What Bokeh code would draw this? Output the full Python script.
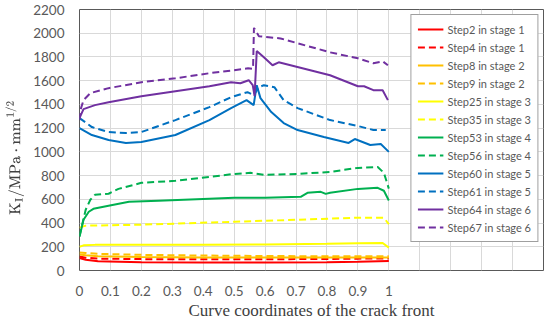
from bokeh.plotting import figure
from bokeh.models import (FixedTicker, CustomJSTickFormatter, Legend, LegendItem,
                          Range1d)
from bokeh.embed import file_html
from bokeh.resources import INLINE

# ---------------- data ----------------
x_step2 = [0, 0.02, 0.06, 0.2, 0.4, 0.6, 0.8, 0.9, 1.0]
y_step2 = [105, 90, 78, 70, 67, 67, 70, 74, 80]

x_step4 = [0, 0.02, 0.06, 0.2, 0.4, 0.6, 0.8, 0.9, 1.0]
y_step4 = [118, 108, 100, 96, 94, 95, 97, 100, 102]

x_step8 = [0, 0.02, 0.06, 0.2, 0.4, 0.6, 0.8, 0.9, 1.0]
y_step8 = [135, 128, 120, 114, 110, 109, 109, 110, 110]

x_step9 = [0, 0.02, 0.06, 0.2, 0.4, 0.6, 0.8, 0.9, 1.0]
y_step9 = [152, 148, 140, 132, 126, 122, 120, 120, 120]

x_step25 = [0, 0.013, 0.05, 0.2, 0.4, 0.6, 0.8, 0.9, 0.98, 1.0]
y_step25 = [200, 212, 216, 216, 217, 220, 225, 230, 232, 193]

x_step35 = [0, 0.02, 0.2, 0.5, 0.705, 0.9, 0.984, 1.0]
y_step35 = [361, 378, 386, 411, 428, 445, 445, 390]

x_step53 = [0, 0.013, 0.03, 0.045, 0.094, 0.16, 0.255, 0.42, 0.5, 0.6, 0.715,
            0.737, 0.78, 0.796, 0.81, 0.9, 0.964, 0.984, 1.0]
y_step53 = [285, 428, 495, 520, 546, 579, 588, 605, 613, 613, 621,
            655, 663, 646, 655, 688, 697, 672, 590]

x_step56 = [0, 0.02, 0.035, 0.05, 0.094, 0.126, 0.2, 0.31, 0.42, 0.5, 0.553,
            0.6, 0.705, 0.81, 0.9, 0.964, 0.984, 1.0]
y_step56 = [290, 512, 596, 638, 647, 688, 739, 756, 789, 814, 823,
            806, 814, 831, 865, 873, 823, 690]

x_step60 = [0, 0.04, 0.094, 0.15, 0.2, 0.31, 0.42, 0.49, 0.54, 0.563, 0.573,
            0.585, 0.62, 0.66, 0.705, 0.79, 0.87, 0.89, 0.94, 0.974, 1.0]
y_step60 = [1201, 1142, 1100, 1075, 1083, 1142, 1268, 1369, 1436, 1394, 1562,
            1453, 1335, 1243, 1184, 1125, 1075, 1108, 1058, 1066, 1000]

x_step61 = [0, 0.04, 0.094, 0.15, 0.2, 0.31, 0.42, 0.49, 0.543, 0.563, 0.58,
            0.596, 0.63, 0.66, 0.705, 0.81, 0.9, 0.95, 0.99]
y_step61 = [1285, 1209, 1167, 1159, 1167, 1268, 1377, 1461, 1503, 1478, 1545,
            1562, 1545, 1436, 1369, 1268, 1218, 1184, 1184]

x_step64 = [0, 0.013, 0.05, 0.094, 0.2, 0.31, 0.42, 0.49, 0.52, 0.547, 0.56,
            0.566, 0.573, 0.596, 0.624, 0.644, 0.81, 0.9, 0.92, 0.95, 0.98, 0.997]
y_step64 = [1285, 1360, 1394, 1419, 1469, 1511, 1553, 1587, 1578, 1604, 1562,
            1470, 1850, 1797, 1730, 1755, 1646, 1553, 1553, 1520, 1520, 1436]

x_step67 = [0, 0.003, 0.013, 0.035, 0.094, 0.2, 0.31, 0.42, 0.5, 0.545, 0.561,
            0.564, 0.58, 0.65, 0.81, 0.9, 0.95, 0.98, 0.997]
y_step67 = [1268, 1352, 1436, 1495, 1537, 1587, 1620, 1663, 1688, 1705, 1700,
            2045, 1975, 1956, 1839, 1789, 1747, 1763, 1730]

series_labels = ["Step2 in stage 1", "Step4 in stage 1", "Step8 in stage 2",
                 "Step9 in stage 2", "Step25 in stage 3", "Step35 in stage 3",
                 "Step53 in stage 4", "Step56 in stage 4", "Step60 in stage 5",
                 "Step61 in stage 5", "Step64 in stage 6", "Step67 in stage 6"]

x_ticks = [0, 0.1, 0.2, 0.3, 0.4, 0.5, 0.6, 0.7, 0.8, 0.9, 1]
x_grid = [0, 0.1, 0.2, 0.3, 0.4, 0.5, 0.6, 0.7, 0.8, 0.9, 1, 1.1, 1.2, 1.3, 1.4, 1.5]
y_ticks = [0, 200, 400, 600, 800, 1000, 1200, 1400, 1600, 1800, 2000, 2200]

x_title = "Curve coordinates of the crack front"
y_title = r"$$\mathrm{K_I/MPa\cdot mm^{1/2}}\hspace{2.2em}$$"

# ---------------- styling ----------------
colors = ["#FF0000", "#FF0000", "#FFC000", "#FFC000", "#FFFF00", "#FFFF00",
          "#00B050", "#00B050", "#0070C0", "#0070C0", "#7030A0", "#7030A0"]
dashed = [False, True] * 6

xs = [x_step2, x_step4, x_step8, x_step9, x_step25, x_step35,
      x_step53, x_step56, x_step60, x_step61, x_step64, x_step67]
ys = [y_step2, y_step4, y_step8, y_step9, y_step25, y_step35,
      y_step53, y_step56, y_step60, y_step61, y_step64, y_step67]

p = figure(width=548, height=322, output_backend="svg", toolbar_location=None,
           x_range=Range1d(0, 1.5), y_range=Range1d(0, 2200),
           min_border_left=79, min_border_right=5, min_border_top=9,
           min_border_bottom=51)
p.background_fill_color = "white"
p.border_fill_color = "white"
p.outline_line_color = "#595959"
p.outline_line_width = 1

p.xaxis.ticker = FixedTicker(ticks=x_ticks)
p.xaxis.formatter = CustomJSTickFormatter(code="return tick.toString();")
p.yaxis.ticker = FixedTicker(ticks=y_ticks)
p.xgrid.ticker = FixedTicker(ticks=x_grid)
p.ygrid.ticker = FixedTicker(ticks=y_ticks)
for g in (p.xgrid, p.ygrid):
    g.grid_line_color = "#D9D9D9"
    g.grid_line_width = 1

for ax in (p.xaxis, p.yaxis):
    ax.axis_line_color = None
    ax.major_tick_line_color = None
    ax.minor_tick_line_color = None
    ax.major_tick_out = 0
    ax.major_tick_in = 0
    ax.minor_tick_out = 0
    ax.minor_tick_in = 0
    ax.major_label_text_font = "Lato"
    ax.major_label_text_font_size = "13.5px"
    ax.major_label_text_color = "#595959"
    ax.axis_label_text_font = "Liberation Serif"
    ax.axis_label_text_font_style = "normal"
    ax.axis_label_text_color = "#404040"
p.yaxis.major_label_standoff = 15
p.xaxis.major_label_standoff = 15

p.xaxis.axis_label = x_title
p.xaxis.axis_label_text_font_size = "17px"
p.xaxis.axis_label_standoff = 2

p.yaxis.axis_label = y_title
p.yaxis.axis_label_text_font_size = "15px"
p.yaxis.axis_label_standoff = 6

items = []
for i in range(12):
    kw = dict(line_color=colors[i], line_width=2)
    if dashed[i]:
        kw["line_dash"] = "7 4"
    r = p.line(xs[i], ys[i], **kw)
    items.append(LegendItem(label=series_labels[i], renderers=[r]))

legend = Legend(items=items, location="top_right")
legend.border_line_color = "#404040"
legend.border_line_width = 1
legend.background_fill_color = "white"
legend.background_fill_alpha = 1
legend.label_text_font = "Lato"
legend.label_text_font_size = "11px"
legend.label_text_color = "#595959"
legend.glyph_width = 26
legend.glyph_height = 16
legend.label_height = 16
legend.spacing = 2
legend.padding = 6
legend.label_standoff = 4
legend.margin = 5
p.add_layout(legend, "center")

open("out.html", "w").write(file_html(p, INLINE))
